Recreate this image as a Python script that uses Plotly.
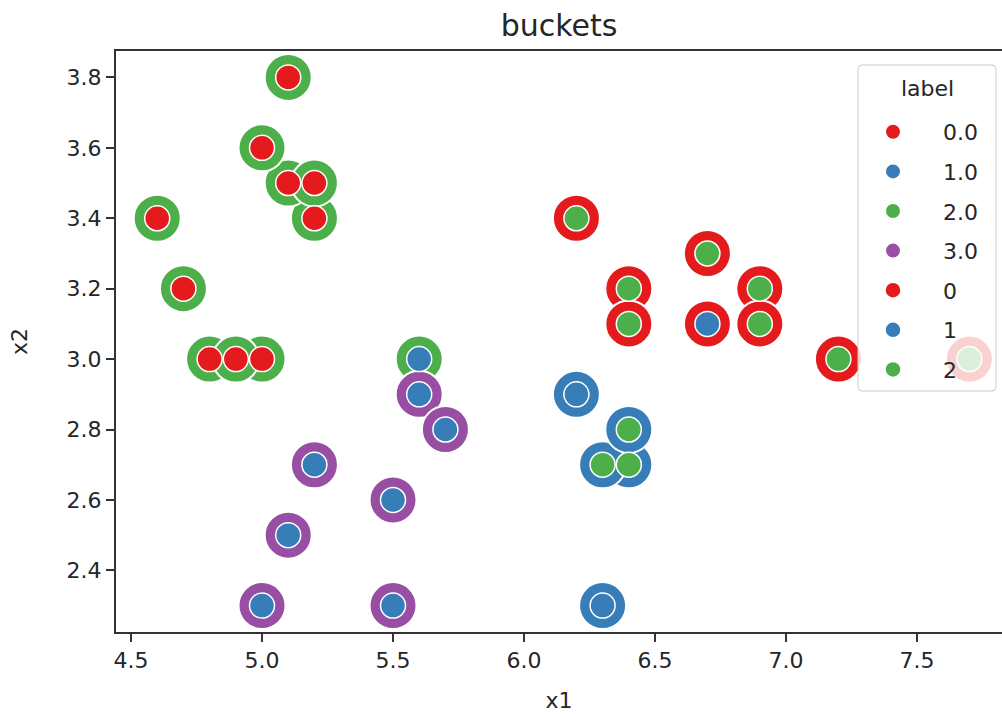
import plotly.graph_objects as go

# data (sepal length / width style points)
x1 = [5.1, 5.2, 5.1, 5.2, 5.0, 4.6, 4.7, 4.8, 5.0, 4.9,
      5.6,
      5.6, 5.7, 5.2, 5.5, 5.1, 5.0, 5.5,
      6.2, 6.3, 6.4, 6.3, 6.4,
      6.2, 6.4, 6.4, 6.7, 6.9, 6.9, 7.2, 7.7, 6.7]
x2 = [3.8, 3.4, 3.5, 3.5, 3.6, 3.4, 3.2, 3.0, 3.0, 3.0,
      3.0,
      2.9, 2.8, 2.7, 2.6, 2.5, 2.3, 2.3,
      2.9, 2.3, 2.7, 2.7, 2.8,
      3.4, 3.2, 3.1, 3.3, 3.2, 3.1, 3.0, 3.0, 3.1]
bucket = [2.0, 2.0, 2.0, 2.0, 2.0, 2.0, 2.0, 2.0, 2.0, 2.0,
          2.0,
          3.0, 3.0, 3.0, 3.0, 3.0, 3.0, 3.0,
          1.0, 1.0, 1.0, 1.0, 1.0,
          0.0, 0.0, 0.0, 0.0, 0.0, 0.0, 0.0, 0.0, 0.0]
label = [0, 0, 0, 0, 0, 0, 0, 0, 0, 0,
         1,
         1, 1, 1, 1, 1, 1, 1,
         1, 1, 2, 2, 2,
         2, 2, 2, 2, 2, 2, 2, 2, 1]

bucket_levels = [0.0, 1.0, 2.0, 3.0]
label_levels = [0, 1, 2]
palette = ["#e41a1c", "#377eb8", "#4daf4a", "#984ea3"]

FONT = "DejaVu Sans"
TXT = "#262626"
fig = go.Figure()

for i, b in enumerate(bucket_levels):
    xs = [x for x, v in zip(x1, bucket) if v == b]
    ys = [y for y, v in zip(x2, bucket) if v == b]
    fig.add_trace(go.Scatter(
        x=xs, y=ys, mode="markers", name=f"{b:.1f}",
        legendgroup=f"b{i}",
        marker=dict(size=47, color=palette[i], line=dict(color="white", width=2)),
    ))

for i, l in enumerate(label_levels):
    xs = [x for x, v in zip(x1, label) if v == l]
    ys = [y for y, v in zip(x2, label) if v == l]
    fig.add_trace(go.Scatter(
        x=xs, y=ys, mode="markers", name=str(l),
        legendgroup=f"l{i}",
        marker=dict(size=25, color=palette[i], line=dict(color="white", width=1.5)),
    ))

axis_common = dict(
    showgrid=False, zeroline=False, showline=True, linecolor="#333333", linewidth=2,
    ticks="outside", ticklen=8, tickwidth=1.5, tickcolor="#333333",
    tickfont=dict(family=FONT, size=22, color=TXT),
)

# plot area in pixels: x 116..1002, y 51..632
PL, PR, PT, PB = 116, 1002, 51, 632
def px_x(p):
    return (p - PL) / (PR - PL)
def px_y(p):
    return (PB - p) / (PB - PT)

# legend frame (rounded rectangle) behind legend entries
bx0, bx1, by0, by1, r = 858, 996, 65, 391, 4
frame_path = (
    f"M {px_x(bx0 + r)} {px_y(by0)} L {px_x(bx1 - r)} {px_y(by0)} "
    f"Q {px_x(bx1)} {px_y(by0)} {px_x(bx1)} {px_y(by0 + r)} "
    f"L {px_x(bx1)} {px_y(by1 - r)} Q {px_x(bx1)} {px_y(by1)} {px_x(bx1 - r)} {px_y(by1)} "
    f"L {px_x(bx0 + r)} {px_y(by1)} Q {px_x(bx0)} {px_y(by1)} {px_x(bx0)} {px_y(by1 - r)} "
    f"L {px_x(bx0)} {px_y(by0 + r)} Q {px_x(bx0)} {px_y(by0)} {px_x(bx0 + r)} {px_y(by0)} Z"
)

fig.update_layout(
    width=1002, height=714,
    margin=dict(l=PL, r=1002 - PR, t=PT, b=714 - PB),
    paper_bgcolor="white", plot_bgcolor="white",
    title=dict(text="buckets", x=0.5, xref="paper", y=1 - 25 / 714, yanchor="middle",
               font=dict(family=FONT, size=30, color=TXT)),
    xaxis=dict(range=[4.4427, 7.8244], tickvals=[4.5, 5.0, 5.5, 6.0, 6.5, 7.0, 7.5],
               ticktext=["4.5", "5.0", "5.5", "6.0", "6.5", "7.0", "7.5"], mirror=True,
               title=dict(text="x1", standoff=20, font=dict(family=FONT, size=22, color=TXT)),
               **axis_common),
    yaxis=dict(range=[2.225, 3.875], tickvals=[2.4, 2.6, 2.8, 3.0, 3.2, 3.4, 3.6, 3.8],
               ticktext=["2.4", "2.6", "2.8", "3.0", "3.2", "3.4", "3.6", "3.8"],
               title=dict(text="x2", standoff=33, font=dict(family=FONT, size=22, color=TXT)),
               **axis_common),
    shapes=[dict(type="path", xref="paper", yref="paper", path=frame_path,
                 fillcolor="rgba(255,255,255,0.8)", line=dict(color="#cccccc", width=1),
                 layer="above")],
    annotations=[dict(text="label", xref="paper", yref="paper",
                      x=px_x((bx0 + bx1) / 2), y=px_y(88), xanchor="center", yanchor="middle",
                      showarrow=False, font=dict(family=FONT, size=22, color=TXT))],
    legend=dict(
        x=px_x(843), y=px_y(111), xanchor="left", yanchor="top",
        bgcolor="rgba(0,0,0,0)", borderwidth=0,
        font=dict(family=FONT, size=22, color=TXT),
        tracegroupgap=8, itemwidth=90,
    ),
    showlegend=True,
)

fig.write_html("out.html")
